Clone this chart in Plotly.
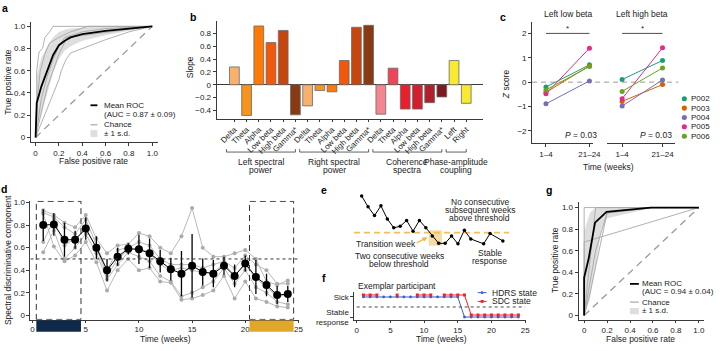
import plotly.graph_objects as go

W, H = 722, 351
FONT = "Liberation Sans, Arial, Helvetica, sans-serif"
TXT = "#222222"
AX = "#3a3a3a"

# ---------------- data ----------------
# a: ROC curves
a_mean_fpr = [0, 0.01, 0.05, 0.10, 0.15, 0.20, 0.25, 0.30, 0.40, 0.60, 0.80, 1.0]
a_mean_tpr = [0, 0.31, 0.46, 0.61, 0.74, 0.83, 0.87, 0.90, 0.93, 0.96, 0.98, 1.0]
a_sd_upper = [0, 0.55, 0.72, 0.82, 0.90, 0.95, 0.97, 0.98, 0.99, 1.0, 1.0, 1.0]
a_sd_lower = [0, 0.07, 0.20, 0.40, 0.58, 0.71, 0.78, 0.82, 0.87, 0.92, 0.96, 1.0]
a_roc_fpr = [
    [0, 0.01, 0.01, 0.03, 0.06, 0.08, 0.12, 0.15, 1.0],
    [0, 0.01, 0.04, 0.08, 0.12, 0.20, 0.30, 0.45, 1.0],
    [0, 0.05, 0.10, 0.15, 0.20, 0.25, 0.40, 0.60, 1.0],
    [0, 0.10, 0.20, 0.27, 1.0],
    [0, 0.20, 0.22, 0.26, 0.30, 0.40, 0.60, 0.80, 1.0],
]
a_roc_tpr = [
    [0, 0, 0.60, 0.77, 0.80, 0.90, 0.95, 1.0, 1.0],
    [0, 0.30, 0.60, 0.75, 0.85, 0.90, 0.95, 1.0, 1.0],
    [0, 0.35, 0.55, 0.70, 0.82, 0.90, 0.95, 0.98, 1.0],
    [0, 0.45, 0.75, 0.90, 1.0],
    [0, 0.52, 0.60, 0.70, 0.76, 0.80, 0.88, 0.95, 1.0],
]

# b: slopes
b_labels = ["Delta", "Theta", "Alpha", "Low beta", "High beta", "Gamma*",
            "Delta", "Theta", "Alpha", "Low beta", "High beta", "Gamma*",
            "Delta", "Theta", "Alpha", "Low beta", "High beta", "Gamma*",
            "Left", "Right"]
b_values = [0.28, -0.48, 0.92, 0.66, 0.85, -0.47,
            -0.33, -0.09, -0.11, 0.38, 0.90, 0.93,
            -0.46, 0.26, -0.38, -0.38, -0.28, -0.19,
            0.38, -0.29]
b_sig = [0, 0, 1, 1, 1, 0, 0, 0, 0, 0, 1, 1, 0, 0, 0, 0, 0, 0, 0, 0]
b_colors = ["#F9B06C", "#F7931E", "#FF7A05", "#F2570C", "#C6460D", "#8A3A10",
            "#F9B06C", "#F7931E", "#FF7A05", "#F2570C", "#C6460D", "#8A3A10",
            "#F5858F", "#EE4458", "#E8202E", "#D41E2E", "#B21F2C", "#7B1A22",
            "#F8EA30", "#F8EA30"]
b_groups = [("Left spectral", "power", 0, 5), ("Right spectral", "power", 6, 11),
            ("Coherence", "spectra", 12, 17), ("Phase-amplitude", "coupling", 18, 19)]

# c: z scores
c_ids = ["P002", "P003", "P004", "P005", "P006"]
c_colors = ["#1B9E77", "#D95F02", "#7570B3", "#E7298A", "#66A61E"]
c_time = ["1–4", "21–24"]
c_low_early = [-0.20, -0.42, -0.89, -0.48, -0.32]
c_low_late = [0.71, 0.67, 0.05, 1.39, 0.64]
c_high_early = [0.11, -0.79, -0.98, -0.68, -0.38]
c_high_late = [0.89, -0.10, 0.09, 1.41, 0.58]

# d: spectral discriminative component
d_weeks = list(range(1, 25))
d_mean = [0.80, 0.805, 0.67, 0.67, 0.77, 0.60, 0.40, 0.52, 0.59, 0.585, 0.55, 0.48,
          0.41, 0.37, 0.44, 0.385, 0.37, 0.44, 0.35, 0.46, 0.34, 0.27, 0.18, 0.19]
d_sd = [0.14, 0.10, 0.15, 0.08, 0.10, 0.10, 0.10, 0.08, 0.05, 0.13, 0.13, 0.10,
        0.10, 0.20, 0.28, 0.12, 0.12, 0.08, 0.10, 0.07, 0.15, 0.10, 0.08, 0.07]
d_participants = [
    [0.93, 0.89, 0.82, 0.78, 0.89, 0.68, 0.55, 0.62, 0.63, 0.73, 0.70, 0.60,
     0.55, 0.70, 0.95, 0.60, 0.52, 0.52, 0.55, 0.58, 0.50, 0.30, 0.27, 0.31],
    [0.91, 0.87, 0.78, 0.72, 0.85, 0.62, 0.40, 0.58, 0.60, 0.65, 0.62, 0.50,
     0.45, 0.45, 0.45, 0.42, 0.45, 0.48, 0.42, 0.53, 0.45, 0.40, 0.28, 0.28],
    [0.65, 0.85, 0.62, 0.68, 0.76, 0.60, 0.35, 0.50, 0.58, 0.60, 0.55, 0.45,
     0.40, 0.42, 0.40, 0.38, 0.38, 0.46, 0.35, 0.45, 0.33, 0.25, 0.17, 0.18],
    [0.56, 0.75, 0.50, 0.60, 0.72, 0.55, 0.32, 0.45, 0.56, 0.52, 0.48, 0.35,
     0.30, 0.17, 0.20, 0.25, 0.30, 0.42, 0.28, 0.40, 0.25, 0.20, 0.12, 0.10],
    [0.90, 0.61, 0.48, 0.53, 0.65, 0.47, 0.22, 0.40, 0.50, 0.40, 0.42, 0.30,
     0.29, 0.14, 0.15, 0.18, 0.22, 0.35, 0.15, 0.30, 0.15, 0.12, 0.08, 0.07],
]
d_threshold = 0.5
d_early = (0.35, 4.55)
d_late = (20.4, 24.55)

# e: schematic
e_weeks = [1, 2, 3, 4, 5, 6, 7, 8, 9, 10, 11, 12, 13, 14, 15, 16, 17, 18, 20, 21, 23]
e_values = [1.25, 1.03, 0.85, 1.05, 0.78, 0.60, 0.63, 0.75, 0.53, 0.75, 0.60, 0.43,
            0.28, 0.28, 0.43, 0.27, 0.55, 0.37, 0.27, 0.48, 0.33]
e_threshold = 0.5

# f: exemplar participant
f_weeks = list(range(1, 25))
f_hdrs = [1] * 15 + [0] * 9
f_sdc = [1, 1, 1, None, None, 1, None, None, 1, 1, 1, None, 1, 1, 1, 1,
         0, 0, 0, 0, 0, 0, 0, 0]

# g: ROC
g_mean_fpr = [0, 0, 0.04, 0.095, 0.195, 0.58, 1.0]
g_mean_tpr = [0, 0.35, 0.53, 0.86, 0.96, 1.0, 1.0]
g_band_fpr = [0, 0, 0.05, 0.10, 1.0, 1.0, 0.60, 0.40, 0.20, 0.15, 0.10, 0.05, 0]
g_band_tpr = [0, 0.78, 0.95, 1.0, 1.0, 1.0, 1.0, 0.95, 0.90, 0.80, 0.45, 0.15, 0]
g_roc_fpr = [[0, 0, 1.0], [0, 0, 1.0], [0, 0.10, 1.0], [0, 0.10, 0.20, 0.60, 1.0],
             [0, 0.05, 0.20, 0.60, 1.0]]
g_roc_tpr = [[0, 1.0, 1.0], [0, 0.68, 1.0], [0, 1.0, 1.0], [0, 0.60, 0.95, 1.0, 1.0],
             [0, 0.20, 0.95, 1.0, 1.0]]


# ---------------- helpers ----------------
def PX(x):
    return x / W


def PY(y):
    return 1 - y / H


def dom_x(a, b):
    return [PX(a), PX(b)]


def dom_y(top, bottom):
    return [PY(bottom), PY(top)]


def axis(domain, rng, anchor, **kw):
    d = dict(domain=domain, range=rng, anchor=anchor, showline=True, linecolor=AX,
             linewidth=0.8, ticks="outside", ticklen=3, tickwidth=0.8, tickcolor=AX,
             showgrid=False, zeroline=False, fixedrange=True,
             tickfont=dict(size=8, color=TXT, family=FONT))
    d.update(kw)
    return d


ann = []
shapes = []


def txt(x, y, s, size=8, xanchor="center", yanchor="middle", angle=0, color=TXT):
    ann.append(dict(x=PX(x), y=PY(y), xref="paper", yref="paper", text=s, showarrow=False,
                    font=dict(size=size, family=FONT, color=color), xanchor=xanchor,
                    yanchor=yanchor, textangle=angle, borderpad=0))


def pline(x0, y0, x1, y1, color=AX, width=0.8, dash="solid"):
    shapes.append(dict(type="line", xref="paper", yref="paper", x0=PX(x0), y0=PY(y0),
                       x1=PX(x1), y1=PY(y1), line=dict(color=color, width=width, dash=dash)))


def prect(x0, y0, x1, y1, fill, line_color=None):
    shapes.append(dict(type="rect", xref="paper", yref="paper", x0=PX(x0), y0=PY(y1),
                       x1=PX(x1), y1=PY(y0), fillcolor=fill,
                       line=dict(width=0 if line_color is None else 0.8,
                                 color=line_color or fill)))


def pcircle(cx, cy, r, color):
    shapes.append(dict(type="circle", xref="paper", yref="paper", x0=PX(cx - r), x1=PX(cx + r),
                       y0=PY(cy + r), y1=PY(cy - r), fillcolor=color, line=dict(width=0)))


fig = go.Figure()
GRAY = "#A8A8A8"

# ---------------- a ----------------
fig.add_trace(go.Scatter(x=a_mean_fpr + a_mean_fpr[::-1], y=a_sd_upper + a_sd_lower[::-1],
                         fill="toself", fillcolor="#DEDEDE", line=dict(width=0),
                         mode="lines", xaxis="x", yaxis="y", hoverinfo="skip"))
for fx, ty in zip(a_roc_fpr, a_roc_tpr):
    fig.add_trace(go.Scatter(x=fx, y=ty, mode="lines", line=dict(color=GRAY, width=0.9),
                             xaxis="x", yaxis="y"))
fig.add_trace(go.Scatter(x=[0, 1], y=[0, 1], mode="lines",
                         line=dict(color="#9A9A9A", width=1.3, dash="7px,5px"), xaxis="x", yaxis="y"))
fig.add_trace(go.Scatter(x=a_mean_fpr, y=a_mean_tpr, mode="lines",
                         line=dict(color="black", width=1.8), xaxis="x", yaxis="y"))

# ---------------- b ----------------
b_x = list(range(len(b_values)))
fig.add_trace(go.Bar(x=b_x, y=b_values, marker=dict(color=b_colors, line=dict(color="#6A6A6A", width=0.8)),
                     width=0.8, xaxis="x2", yaxis="y2"))
for i, s in enumerate(b_sig):
    if s:
        ann.append(dict(x=i, y=1.0, xref="x2", yref="y2", text="+", showarrow=False,
                        font=dict(size=9, family=FONT, color=TXT), yanchor="middle"))
for g1, g2, i0, i1 in b_groups:
    x0, x1 = i0 - 0.65, i1 + 0.0
    shapes.append(dict(type="line", xref="x2", yref="paper", x0=x0, x1=x1, y0=PY(154), y1=PY(154),
                       line=dict(color=AX, width=0.8)))
    for xx in (x0, x1):
        shapes.append(dict(type="line", xref="x2", yref="paper", x0=xx, x1=xx, y0=PY(154), y1=PY(151),
                           line=dict(color=AX, width=0.8)))
    xc = (x0 + x1) / 2
    for k, s in enumerate((g1, g2)):
        ann.append(dict(x=xc, y=PY(164 + 8.7 * k), xref="x2", yref="paper", text=s, showarrow=False,
                        font=dict(size=8.5, family=FONT, color=TXT), yanchor="middle", borderpad=0))

# ---------------- c ----------------
for i, pid in enumerate(c_ids):
    fig.add_trace(go.Scatter(x=[0, 1], y=[c_low_early[i], c_low_late[i]], mode="lines+markers",
                             line=dict(color=c_colors[i], width=1), marker=dict(size=5, color=c_colors[i]),
                             xaxis="x3", yaxis="y3"))
    fig.add_trace(go.Scatter(x=[0, 1], y=[c_high_early[i], c_high_late[i]], mode="lines+markers",
                             line=dict(color=c_colors[i], width=1), marker=dict(size=5, color=c_colors[i]),
                             xaxis="x4", yaxis="y4"))
    pcircle(692, 99.3 + 9.6 * i, 2.6, c_colors[i])
    txt(697.5, 99.3 + 9.6 * i, pid, size=8, xanchor="left")
shapes.append(dict(type="line", xref="paper", yref="y3", x0=PX(538), x1=PX(686), y0=0, y1=0,
                   line=dict(color="#9A9A9A", width=1, dash="5px,4px"), layer="below"))
for xr, yr in (("x3", "y3"), ("x4", "y4")):
    shapes.append(dict(type="line", xref=xr, yref=yr, x0=0, x1=1, y0=2.0, y1=2.0,
                       line=dict(color=AX, width=0.9)))
    ann.append(dict(x=0.5, y=2.22, xref=xr, yref=yr, text="*", showarrow=False,
                    font=dict(size=8, family=FONT, color=TXT), yanchor="middle"))

# ---------------- d ----------------
for series in d_participants:
    fig.add_trace(go.Scatter(x=d_weeks, y=series, mode="lines+markers",
                             line=dict(color="#B8B8B8", width=1), marker=dict(size=4, color="#ABABAB"),
                             xaxis="x5", yaxis="y5"))
fig.add_trace(go.Scatter(x=d_weeks, y=d_mean, mode="lines+markers",
                         line=dict(color="black", width=1),
                         marker=dict(size=8, color="black"),
                         error_y=dict(type="data", array=d_sd, color="black", thickness=1.3, width=0),
                         xaxis="x5", yaxis="y5"))
shapes.append(dict(type="line", xref="x5", yref="y5", x0=-0.2, x1=25.0, y0=d_threshold, y1=d_threshold,
                   line=dict(color="#333", width=1, dash="3px,3px")))
for (x0, x1), col in ((d_early, "#0E2A4A"), (d_late, "#E2A72A")):
    shapes.append(dict(type="rect", xref="x5", yref="y5", x0=x0, x1=x1, y0=-0.035, y1=1.01,
                       line=dict(color="#333", width=1, dash="6px,4px")))
    shapes.append(dict(type="rect", xref="x5", yref="paper", x0=x0, x1=x1, y0=PY(338.5), y1=PY(326.8),
                       fillcolor=col, line=dict(width=0)))

# ---------------- e ----------------
shapes.append(dict(type="rect", xref="x6", yref="y6", x0=11.45, x1=13.5, y0=0.23, y1=0.55,
                   fillcolor="rgba(236,190,90,0.55)", line=dict(width=0), layer="below"))
shapes.append(dict(type="line", xref="x6", yref="y6", x0=-0.2, x1=24.0, y0=e_threshold, y1=e_threshold,
                   line=dict(color="#F2BE55", width=1.6, dash="6px,4px"), layer="below"))
fig.add_trace(go.Scatter(x=e_weeks, y=e_values, mode="lines+markers",
                         line=dict(color="black", width=1), marker=dict(size=3.5, color="black"),
                         xaxis="x6", yaxis="y6"))

# ---------------- f ----------------
shapes.append(dict(type="line", xref="x7", yref="y7", x0=0, x1=25, y0=0.5, y1=0.5,
                   line=dict(color="#333", width=0.9, dash="3px,3px")))
fig.add_trace(go.Scatter(x=f_weeks, y=f_hdrs, mode="lines+markers",
                         line=dict(color="#3F5BD0", width=1), marker=dict(size=2.8, color="#3F5BD0"),
                         xaxis="x7", yaxis="y7"))
fig.add_trace(go.Scatter(x=f_weeks, y=[None if v is None else v + 0.1 for v in f_sdc], mode="lines+markers",
                         line=dict(color="#E8262C", width=1),
                         marker=dict(size=3, color="#E8262C", symbol="square"),
                         xaxis="x7", yaxis="y7", connectgaps=False))

# ---------------- g ----------------
fig.add_trace(go.Scatter(x=g_band_fpr, y=g_band_tpr, fill="toself", fillcolor="#DEDEDE",
                         line=dict(width=0), mode="lines", xaxis="x8", yaxis="y8", hoverinfo="skip"))
for fx, ty in zip(g_roc_fpr, g_roc_tpr):
    fig.add_trace(go.Scatter(x=fx, y=ty, mode="lines", line=dict(color=GRAY, width=0.9),
                             xaxis="x8", yaxis="y8"))
fig.add_trace(go.Scatter(x=[0, 1], y=[0, 1], mode="lines",
                         line=dict(color="#9A9A9A", width=1.3, dash="7px,5px"), xaxis="x8", yaxis="y8"))
fig.add_trace(go.Scatter(x=g_mean_fpr, y=g_mean_tpr, mode="lines",
                         line=dict(color="black", width=1.8), xaxis="x8", yaxis="y8"))

# ---------------- axes ----------------
roc_ticks = [0, 0.2, 0.4, 0.6, 0.8, 1.0]
roc_text = ["0", "0.2", "0.4", "0.6", "0.8", "1.0"]
layout_axes = dict(
    xaxis=axis(dom_x(31, 160), [-0.042, 1.051], "y", tickvals=roc_ticks, ticktext=roc_text),
    yaxis=axis(dom_y(21, 144), [-0.044, 1.035], "x", tickvals=roc_ticks, ticktext=roc_text),
    xaxis2=axis(dom_x(219, 488), [-1.46, 20.34], "y2", tickvals=b_x, ticktext=b_labels,
                tickangle=-45, ticklen=2),
    yaxis2=axis(dom_y(20, 120), [-0.534, 0.99], "x2", tickvals=[-0.4, -0.2, 0, 0.2, 0.4, 0.6, 0.8],
                ticktext=["−0.4", "−0.2", "0", "0.2", "0.4", "0.6", "0.8"],
                zeroline=True, zerolinecolor=AX, zerolinewidth=0.8),
    xaxis3=axis(dom_x(538, 600), [-0.32, 1.09], "y3", tickvals=[0, 1], ticktext=c_time),
    yaxis3=axis(dom_y(21, 145), [-2.51, 2.45], "x3", tickvals=[-2, -1, 0, 1, 2],
                ticktext=["−2", "−1", "0", "1", "2"]),
    xaxis4=axis(dom_x(614, 683), [-0.37, 1.32], "y4", tickvals=[0, 1], ticktext=c_time),
    yaxis4=axis(dom_y(21, 145), [-2.51, 2.45], "x4", visible=False),
    xaxis5=axis(dom_x(30.7, 302.3), [-0.21, 25.05], "y5", tickvals=[0, 5, 10, 15, 20, 25], ticklen=2),
    yaxis5=axis(dom_y(204, 326), [-0.037, 1.015], "x5", tickvals=roc_ticks, ticktext=roc_text),
    xaxis6=axis(dom_x(358, 515), [-0.19, 24.0], "y6", visible=False),
    yaxis6=axis(dom_y(195, 255), [0.134, 1.334], "x6", visible=False),
    xaxis7=axis(dom_x(358.3, 531.7), [-0.35, 25.1], "y7", tickvals=[0, 5, 10, 15, 20, 25], ticklen=2),
    yaxis7=axis(dom_y(298, 326.7), [-0.165, 1.23], "x7", tickvals=[0, 1],
                ticktext=["Stable<br>response", "Sick"]),
    xaxis8=axis(dom_x(585, 711.7), [-0.049, 1.043], "y8", tickvals=roc_ticks, ticktext=roc_text, ticklen=2),
    yaxis8=axis(dom_y(205, 326.7), [-0.045, 1.054], "x8", tickvals=roc_ticks, ticktext=roc_text),
)

# ---------------- text ----------------
for lab, x, y in (("a", 5, 6), ("b", 195, 15), ("c", 509, 15), ("d", 4, 192),
                  ("e", 328, 193), ("f", 328, 283), ("g", 555, 193)):
    txt(x, y, "<b>%s</b>" % lab, size=10.5, color="black")

# a
txt(95, 163, "False positive rate", size=8.5)
txt(8, 82, "True positive rate", size=8.5, angle=-90)
pline(91.5, 106, 98.5, 106, color="black", width=1.8)
pline(91.5, 126, 98.5, 126, color=GRAY, width=1.2)
prect(91.5, 131.5, 98.5, 138.5, "#DEDEDE")
txt(104, 106, "Mean ROC", xanchor="left", size=8)
txt(104, 115, "(AUC = 0.87 ± 0.09)", xanchor="left", size=8)
txt(104, 126, "Chance", xanchor="left", size=8)
txt(104, 135, "± 1 s.d.", xanchor="left", size=8)

# b
txt(192, 67, "Slope", size=8.5, angle=-90)

# c
txt(574, 12, "Left low beta", size=8.5)
txt(649, 12, "Left high beta", size=8.5)
txt(512, 84, "<i>Z</i> score", size=8.5, angle=-90)
txt(605, 136, "<i>P</i> = 0.03", size=8.5, xanchor="right")
txt(681, 136, "<i>P</i> = 0.03", size=8.5, xanchor="right")
txt(615, 169, "Time (weeks)", size=8.5)

# d
txt(8, 265, "Spectral discriminative component", size=8.5, angle=-90)
txt(167, 345.5, "Time (weeks)", size=8.5)

# e
txt(485, 205, "No consecutive", size=8.5)
txt(485, 213.3, "subsequent weeks", size=8.5)
txt(485, 221.7, "above threshold", size=8.5)
txt(359, 248, "Transition week", size=8.5, xanchor="left")
txt(403.5, 261, "Two consecutive weeks", size=8.5)
txt(403.5, 269.3, "below threshold", size=8.5)
txt(495, 257.7, "Stable", size=8.5)
txt(495, 265.5, "response", size=8.5)
ann.append(dict(x=PX(432), y=PY(241.5), xref="paper", yref="paper", ax=-12, ay=6.5,
                axref="pixel", ayref="pixel", text="", showarrow=True, arrowhead=2,
                arrowsize=0.8, arrowwidth=1.2, arrowcolor="#F0B540"))

# f
txt(360.7, 291, "Exemplar participant", size=8.5, xanchor="left")
txt(446.7, 345.5, "Time (weeks)", size=8.5)
pline(483, 298.3, 492, 298.3, color="#3F5BD0", width=1)
pcircle(487.5, 298.3, 1.4, "#3F5BD0")
pline(483, 307.3, 492, 307.3, color="#E8262C", width=1)
prect(486, 305.8, 489, 308.8, "#E8262C")
txt(496, 298.3, "HDRS state", size=8.5, xanchor="left")
txt(496, 307.3, "SDC state", size=8.5, xanchor="left")

# g
txt(561, 265, "True positive rate", size=8.5, angle=-90)
txt(648, 345.5, "False positive rate", size=8.5)
pline(637, 289.3, 646, 289.3, color="black", width=1.8)
pline(637, 308, 646, 308, color=GRAY, width=1.2)
prect(637, 314, 646, 320.5, "#DEDEDE")
txt(648.5, 289.3, "Mean ROC", xanchor="left", size=8)
txt(648.5, 297, "(AUC = 0.94 ± 0.04)", xanchor="left", size=8)
txt(648.5, 308, "Chance", xanchor="left", size=8)
txt(648.5, 317, "± 1 s.d.", xanchor="left", size=8)

fig.update_layout(width=W, height=H, margin=dict(l=0, r=0, t=0, b=0),
                  paper_bgcolor="white", plot_bgcolor="white", showlegend=False,
                  font=dict(family=FONT, size=8, color=TXT), annotations=ann, shapes=shapes,
                  bargap=0.2, **layout_axes)
fig.write_html("out.html", config={"displayModeBar": False},
               post_script="document.body.style.margin='0';document.body.style.overflow='hidden';")
